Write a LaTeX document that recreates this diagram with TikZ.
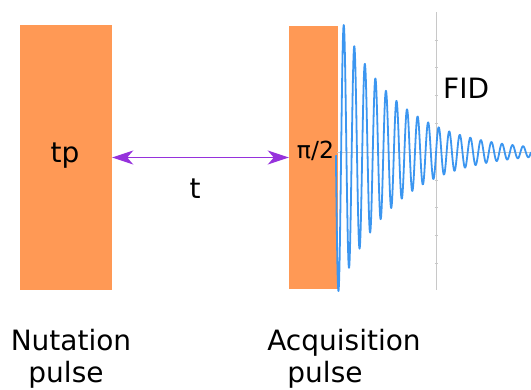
\documentclass[tikz,border=0pt]{standalone}
\usepackage{fontspec}
\setmainfont{DejaVu Sans}
\usetikzlibrary{arrows.meta}
\definecolor{pulseorange}{RGB}{255,153,85}
\definecolor{fidblue}{RGB}{60,150,240}
\definecolor{gapviolet}{RGB}{150,50,220}
\definecolor{axisgray}{RGB}{200,200,200}
\tikzset{pulsebox/.style={fill=pulseorange,inner sep=0pt},
  lbl/.style={anchor=base,inner sep=0pt,font=\fontsize{28}{34}\selectfont},
  gap/.style={draw=gapviolet,line width=1.8pt,{Stealth[length=21pt,width=14pt,inset=6pt]}-{Stealth[length=21pt,width=14pt,inset=6pt]}}}

\begin{document}
\begin{tikzpicture}[x=1pt,y=-1pt]
\useasboundingbox(0,0)rectangle(531,389);
\node[pulsebox,minimum width=92pt,minimum height=265pt](nut)at(66,157.5){};
\node[pulsebox,minimum width=49pt,minimum height=263pt](acq)at(313.5,157.5){};
\node[lbl](tp)at(65,162){tp};\node[lbl,font=\fontsize{23.5}{28}\selectfont](half)at(315.5,158){π/2};
\draw[gap](nut.east)--(acq.west);\node[lbl](t)at(195,198){t};
% FID axes and signal
\draw[axisgray,line width=0.8pt](436,12)--(436,290);\draw[axisgray,line width=0.8pt](337,152)--(531,152);
\foreach \y in {40,67,95,123,180,207,235,263}\draw[axisgray,line width=0.6pt](434.5,\y)--(437.5,\y);
\draw[fidblue,line width=1.8pt,line join=round,domain=335.9:531,samples=900,variable=\x]
  plot(\x,{152+139*exp(-(\x-338.5)/58)*cos(34.123*(\x-338.5))});
\node[lbl,anchor=base west](fid)at(443,98){FID};
\node[lbl](nutA)at(71,350){Nutation};\node[lbl](nutB)at(66,382){pulse};
\node[lbl](acqA)at(344,350){Acquisition};\node[lbl](acqB)at(325,382){pulse};
\end{tikzpicture}
\end{document}
